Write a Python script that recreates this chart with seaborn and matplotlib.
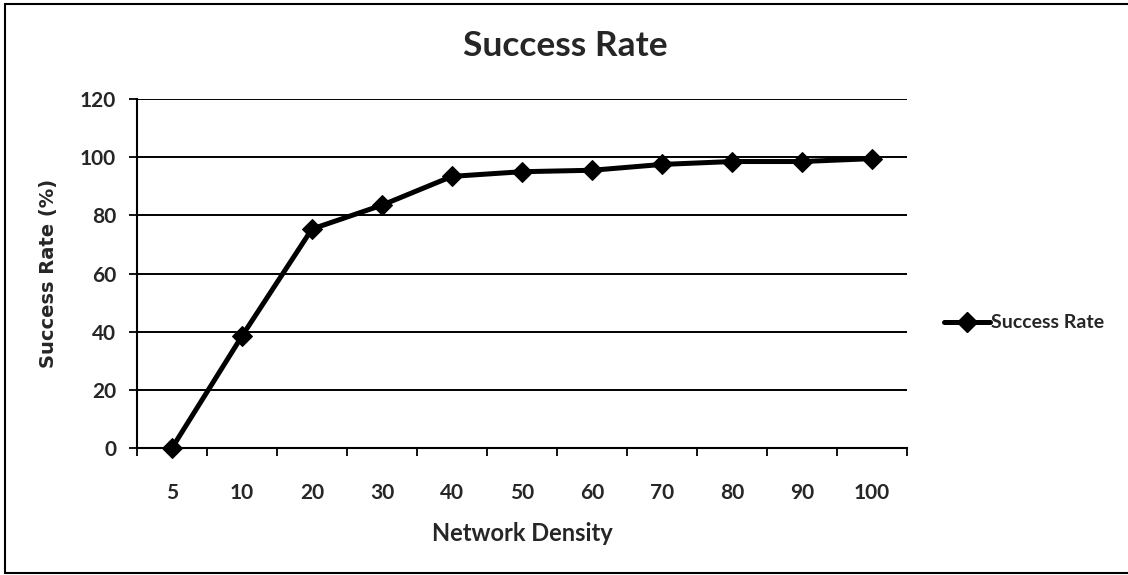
import matplotlib
matplotlib.use("Agg")
import matplotlib.pyplot as plt
from matplotlib.lines import Line2D
from matplotlib.ticker import FixedLocator
import seaborn as sns
import pandas as pd

# Network density categories and measured success rate (%)
densities = ["5", "10", "20", "30", "40", "50", "60", "70", "80", "90", "100"]
success_rate = [0, 38.5, 75.3, 83.5, 93.4, 95.0, 95.5, 97.5, 98.5, 98.5, 99.5]
y_ticks = [0, 20, 40, 60, 80, 100, 120]

sns.set_theme(style="white")
plt.rcParams["font.family"] = ["Lato", "DejaVu Sans"]
plt.rcParams["font.weight"] = "bold"

df = pd.DataFrame({"Network Density": densities, "Success Rate": success_rate})

W, H = 1128, 575
fig = plt.figure(figsize=(W / 100, H / 100), dpi=100)
ax = fig.add_axes([137 / W, 1 - 448 / H, (907 - 137) / W, (448 - 99) / H])

sns.lineplot(data=df, x="Network Density", y="Success Rate", ax=ax,
             color="black", linewidth=3.6, marker="D", markersize=10,
             markeredgecolor="black", sort=False, legend=False, zorder=3,
             clip_on=False)

ax.set_xlim(-0.5, len(densities) - 0.5)
ax.set_ylim(0, 120)
ax.set_yticks(y_ticks)
ax.yaxis.grid(True, color="black", linewidth=1.4)
ax.set_axisbelow(True)

# category labels centred, tick marks on category boundaries
ax.xaxis.set_minor_locator(FixedLocator([i - 0.5 for i in range(len(densities) + 1)]))
ax.tick_params(axis="x", which="major", length=0, pad=25, labelsize=15)
ax.tick_params(axis="x", which="minor", bottom=True, length=6, width=1.3,
               color="black", direction="out")
ax.tick_params(axis="y", which="major", left=True, length=6, width=1.3,
               color="black", direction="out", pad=9, labelsize=15)
for lbl in ax.get_xticklabels() + ax.get_yticklabels():
    lbl.set_fontweight("bold")

for side in ("top", "right"):
    ax.spines[side].set_visible(False)
for side in ("left", "bottom"):
    ax.spines[side].set_color("black")
    ax.spines[side].set_linewidth(1.5)

ax.set_xlabel("Network Density", fontsize=17, fontweight="bold", labelpad=14)
ax.set_ylabel("Success Rate (%)", fontsize=14, fontweight="bold",
              family=["DejaVu Sans"])
ax.yaxis.set_label_coords((58 - 137) / 770, 0.5)

fig.text(565 / W, 1 - 46 / H, "Success Rate", ha="center", va="center",
         fontsize=25.5, fontweight="bold")

handle = Line2D([], [], color="black", linewidth=3.6, marker="D", markersize=10)
fig.legend([handle], ["Success Rate"], loc="center left",
           bbox_to_anchor=(936 / W, 1 - 323 / H), frameon=False,
           prop={"size": 14, "weight": "bold"}, handlelength=2.4,
           handletextpad=0.05, borderaxespad=0)

# chart area border
for xs, ys in (((5, 5), (4, 573)), ((5, W), (4, 4)), ((5, W), (573, 573))):
    fig.add_artist(Line2D([x / W for x in xs], [1 - y / H for y in ys],
                          color="black", linewidth=1.5))

fig.savefig("out.png", dpi=100)
